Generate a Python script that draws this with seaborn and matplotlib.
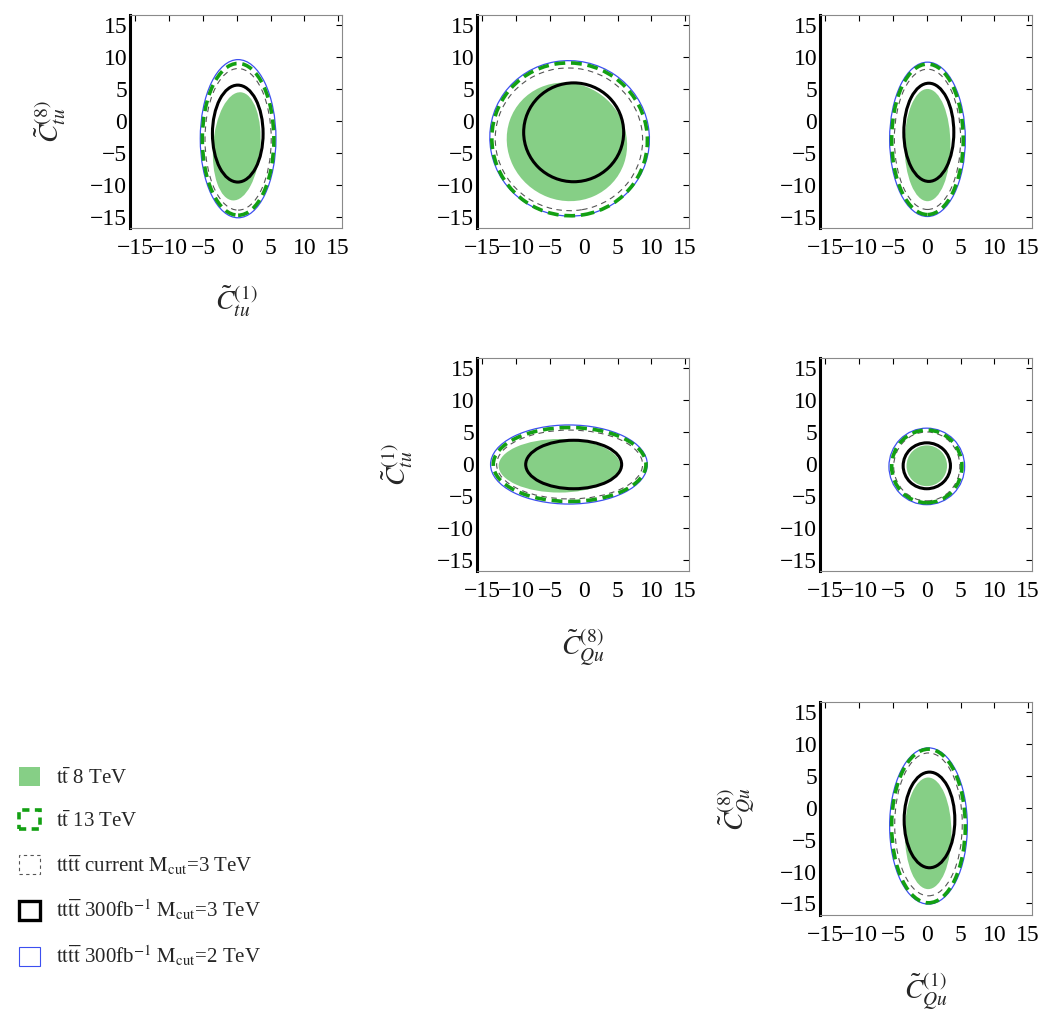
import matplotlib
matplotlib.use("Agg")
import matplotlib.pyplot as plt
from matplotlib.patches import Ellipse, Patch
import seaborn as sns

# ---------------- data ----------------
# panel layout (row, col) of the triangular grid
PANEL_ROW = [0, 0, 0, 1, 1, 2]
PANEL_COL = [0, 1, 2, 1, 2, 2]
X_LABELS = [r"$\tilde{C}_{tu}^{(1)}$", r"$\tilde{C}_{Qu}^{(8)}$", r"$\tilde{C}_{Qu}^{(1)}$"]
Y_LABELS = [r"$\tilde{C}_{tu}^{(8)}$", r"$\tilde{C}_{tu}^{(1)}$", r"$\tilde{C}_{Qu}^{(8)}$"]
TICKS = [-15, -10, -5, 0, 5, 10, 15]

# contour regions per panel: centre x, centre y, full width, full height, angle
tt8_cx = [0.0, -2.5, 0.1, -3.6, 0.0, 0.2]
tt8_cy = [-4.0, -3.3, -3.8, -0.3, -0.3, -4.0]
tt8_w = [7.0, 17.6, 6.8, 18.0, 6.0, 6.9]
tt8_h = [17.0, 18.8, 17.6, 8.4, 6.4, 17.5]
tt8_a = [-4, 25, 0, 0, 0, 0]

tt13_cx = [0.2, -2.1, 0.1, -2.1, 0.0, 0.25]
tt13_cy = [-2.9, -2.9, -2.9, -0.1, -0.4, -2.85]
tt13_w = [10.6, 23.0, 10.6, 22.6, 10.4, 10.9]
tt13_h = [23.8, 24.0, 23.6, 11.6, 11.4, 24.1]
tt13_a = [0, 10, 0, 0, 0, 0]

cur_cx = [0.2, -2.2, 0.1, -2.1, 0.0, 0.25]
cur_cy = [-2.9, -2.9, -2.9, -0.1, -0.4, -2.6]
cur_w = [9.8, 21.8, 9.8, 21.6, 9.8, 10.0]
cur_h = [22.2, 22.4, 22.0, 10.8, 10.8, 22.4]
cur_a = [0, 10, 0, 0, 0, 0]

hl3_cx = [0.15, -1.5, 0.3, -1.5, 0.0, 0.4]
hl3_cy = [-2.0, -1.8, -1.8, -0.1, -0.3, -1.9]
hl3_w = [7.5, 14.8, 7.4, 14.2, 7.0, 7.5]
hl3_h = [15.2, 15.5, 15.4, 7.6, 7.2, 15.0]
hl3_a = [0, 0, 0, 0, 0, 0]

hl2_cx = [0.2, -2.1, 0.1, -2.2, 0.0, 0.25]
hl2_cy = [-2.8, -2.75, -2.9, -0.1, -0.4, -2.85]
hl2_w = [11.2, 23.6, 11.2, 23.2, 11.2, 11.5]
hl2_h = [24.8, 24.4, 24.2, 12.4, 12.0, 24.5]
hl2_a = [0, 10, 0, 0, 0, 0]

LEGEND_LABELS = [
    r"$\mathrm{t\bar{t}}$ 8 TeV",
    r"$\mathrm{t\bar{t}}$ 13 TeV",
    r"$\mathrm{tt\bar{t}\bar{t}}$ current $\mathrm{M_{cut}}$=3 TeV",
    r"$\mathrm{tt\bar{t}\bar{t}}$ 300fb$^{-1}$ $\mathrm{M_{cut}}$=3 TeV",
    r"$\mathrm{tt\bar{t}\bar{t}}$ 300fb$^{-1}$ $\mathrm{M_{cut}}$=2 TeV",
]

# ---------------- style ----------------
sns.set_theme(style="white")
plt.rcParams["font.family"] = ["Liberation Serif", "DejaVu Serif"]
plt.rcParams["mathtext.fontset"] = "stix"

C_FILL = "#86cf86"
C_GDASH = "#13a013"
C_CUR = "#555555"
C_HL3 = "#000000"
C_HL2 = "#3c4ff0"

fig = plt.figure(figsize=(10.4, 10.11), dpi=100)

COL_LEFT = [0.125, 0.4587, 0.7885]
ROW_BOTTOM = [0.7745, 0.4352, 0.0950]
AX_W, AX_H = 0.204, 0.2107


def draw_region(ax, cx, cy, w, h, a, **kw):
    ax.add_patch(Ellipse((cx, cy), w, h, angle=a, **kw))


for i, (r, c) in enumerate(zip(PANEL_ROW, PANEL_COL)):
    ax = fig.add_axes([COL_LEFT[c], ROW_BOTTOM[r], AX_W, AX_H])
    draw_region(ax, tt8_cx[i], tt8_cy[i], tt8_w[i], tt8_h[i], tt8_a[i],
                facecolor=C_FILL, edgecolor="none", zorder=1)
    draw_region(ax, hl2_cx[i], hl2_cy[i], hl2_w[i], hl2_h[i], hl2_a[i],
                facecolor="none", edgecolor=C_HL2, lw=0.9, zorder=2)
    draw_region(ax, cur_cx[i], cur_cy[i], cur_w[i], cur_h[i], cur_a[i],
                facecolor="none", edgecolor=C_CUR, lw=0.8,
                linestyle=(0, (5, 4)), zorder=2)
    draw_region(ax, tt13_cx[i], tt13_cy[i], tt13_w[i], tt13_h[i], tt13_a[i],
                facecolor="none", edgecolor=C_GDASH, lw=2.6,
                linestyle=(0, (3, 1.6)), zorder=3)
    draw_region(ax, hl3_cx[i], hl3_cy[i], hl3_w[i], hl3_h[i], hl3_a[i],
                facecolor="none", edgecolor=C_HL3, lw=2.2, zorder=4)

    ax.set_xlim(-15.8, 15.6)
    ax.set_ylim(-16.8, 16.6)
    ax.set_xticks(TICKS)
    ax.set_yticks(TICKS)
    ax.set_xticklabels([str(t).replace("-", "\u2212") for t in TICKS])
    ax.set_yticklabels([str(t).replace("-", "\u2212") for t in TICKS])
    ax.tick_params(axis="both", labelsize=17, direction="in", length=4,
                   width=0.8, colors="black", top=True, right=True)
    ax.tick_params(axis="x", pad=7)
    ax.tick_params(axis="y", pad=2)
    for side in ["top", "right", "bottom"]:
        ax.spines[side].set_color("#8a8a8a")
        ax.spines[side].set_linewidth(0.8)
    ax.spines["left"].set_color("black")
    ax.spines["left"].set_linewidth(2.2)

    # axis labels on the diagonal panels of the triangle
    if r == c:
        ax.set_xlabel(X_LABELS[c], fontsize=20, labelpad=18)
        ax.set_ylabel(Y_LABELS[r], fontsize=20, labelpad=16)

handles = [
    Patch(facecolor=C_FILL, edgecolor="none"),
    Patch(facecolor="none", edgecolor=C_GDASH, lw=2.6, linestyle=(0, (2, 1.5))),
    Patch(facecolor="none", edgecolor=C_CUR, lw=0.8, linestyle=(0, (3, 3))),
    Patch(facecolor="none", edgecolor=C_HL3, lw=2.4),
    Patch(facecolor="none", edgecolor=C_HL2, lw=0.8),
]
fig.legend(handles, LEGEND_LABELS, loc="upper left",
           bbox_to_anchor=(0.018, 0.241), frameon=False, fontsize=15,
           handlelength=1.0, handleheight=1.0, handletextpad=0.8,
           labelspacing=1.02, borderpad=0, borderaxespad=0)

fig.savefig("out.png", dpi=100)
